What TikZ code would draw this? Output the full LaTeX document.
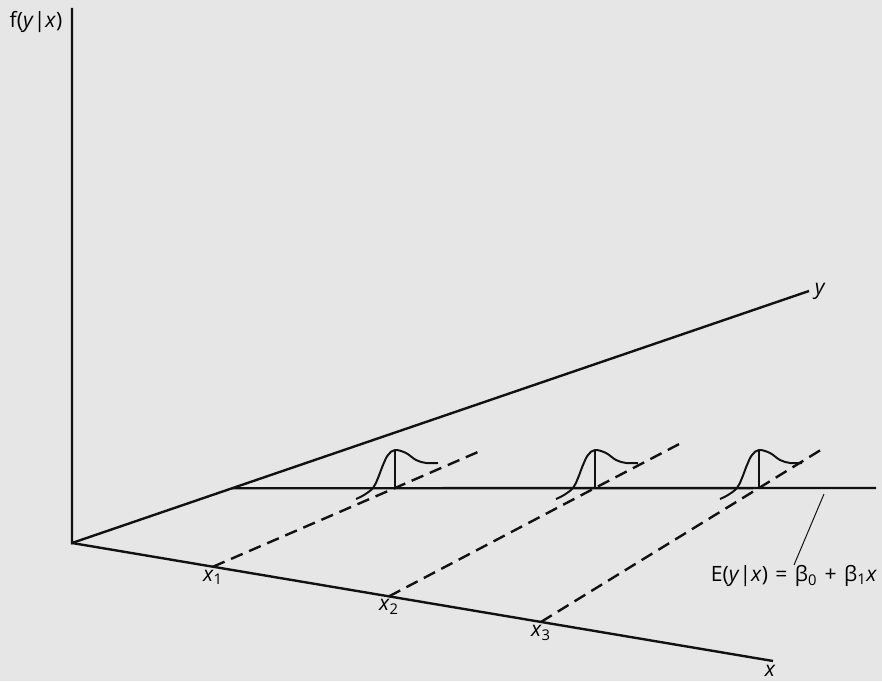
\documentclass[tikz,border=0pt]{standalone}
\usepackage{fontspec}
\setmainfont{Open Sans}
\usepackage{xcolor}
\usepackage{tikz}
\usetikzlibrary{calc,positioning}
\definecolor{rgray}{HTML}{E6E6E6}
\definecolor{rdark}{HTML}{111111}
\newcommand{\wsp}{\hspace{0.35em}}

\begin{document}
\begin{tikzpicture}[
    axisline/.style={draw=rdark, line width=1.7pt},
    guide/.style={draw=rdark, line width=1.7pt, dash pattern=on 9pt off 5pt},
    dens/.style={draw=rdark, line width=1.4pt},
    leader/.style={draw=rdark, line width=0.7pt},
    lbl/.style={inner sep=1pt, font=\fontsize{15}{17}\selectfont},
]
    \fill[rgray] (0,0) rectangle (22.05,17.025);

    % axes
    \coordinate (O) at (1.8,3.45);
    \coordinate (ftop) at (1.8,16.825);
    \coordinate (yend) at (20.225,9.75);
    \coordinate (xend) at (19.325,0.5);
    \draw[axisline] (ftop) -- (O) -- (yend);
    \draw[axisline] (O) -- (xend);
    \node[lbl] (flbl) at (0.9,16.475) {f(\textit{y}|\textit{x})};
    \node[lbl, right=3pt of yend] (ylbl) {\textit{y}};
    \node[lbl, below=2pt of xend, xshift=-2pt] (xlbl) {\textit{x}};

    % regression line E(y|x)
    \coordinate (e0) at ($(O)!0.2171!(yend)$);
    \coordinate (e1) at (21.9,4.825);
    \draw[axisline] (e0) -- (e1);

    % x values, means and dashed guides
    \coordinate (x1) at ($(O)!0.2011!(xend)$);
    \coordinate (x2) at ($(O)!0.4522!(xend)$);
    \coordinate (x3) at ($(O)!0.6690!(xend)$);
    \coordinate (m1) at (9.875,4.825);
    \coordinate (m2) at (14.875,4.825);
    \coordinate (m3) at (18.975,4.825);
    \coordinate (d1) at (12.075,5.78);
    \coordinate (d2) at (17.125,6.0);
    \coordinate (d3) at (20.525,5.78);
    \draw[guide] (x1) -- (m1) -- (d1);
    \draw[guide] (x2) -- (m2) -- (d2);
    \draw[guide] (x3) -- (m3) -- (d3);
    \node[lbl, below=1pt of x1] (x1lbl) {\textit{x}\textsubscript{1}};
    \node[lbl, below=1pt of x2] (x2lbl) {\textit{x}\textsubscript{2}};
    \node[lbl, below=1pt of x3] (x3lbl) {\textit{x}\textsubscript{3}};

    % conditional densities
    \foreach \m in {m1,m2,m3} {
        \draw[dens, shift={(\m)}] plot[smooth, tension=0.6] coordinates {
            (-0.975,-0.275) (-0.775,-0.175) (-0.55,0) (-0.425,0.25) (-0.3,0.575)
            (-0.175,0.825) (0,0.95) (0.275,0.875) (0.525,0.7) (0.775,0.625) (1.075,0.625)};
        \draw[dens] (\m) -- ++(0,0.95);
    }

    % label of the regression line
    \coordinate (ls) at (20.6,4.675);
    \coordinate (le) at (19.85,2.9);
    \draw[leader] (ls) -- (le);
    \node[lbl, below=-1pt of le] (elbl) {E(\textit{y}|\textit{x})\wsp=\wsp β\textsubscript{0}\wsp+\wsp β\textsubscript{1}\textit{x}};
\end{tikzpicture}
\end{document}
